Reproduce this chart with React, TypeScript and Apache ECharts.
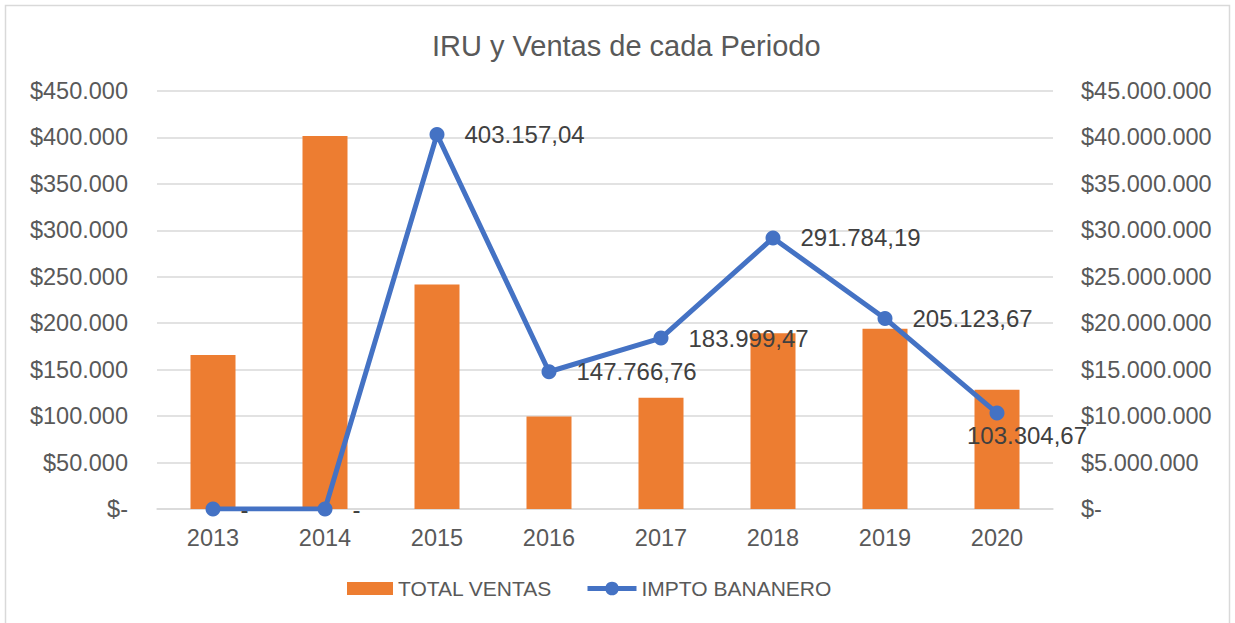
import React, { useEffect, useRef } from "react";
import * as echarts from "echarts";

const years = ["2013", "2014", "2015", "2016", "2017", "2018", "2019", "2020"];
const totalVentas = [16570000, 40160000, 24160000, 9960000, 11970000, 18930000, 19400000, 12830000];
const imptoBananero = [0, 0, 403157.04, 147766.76, 183999.47, 291784.19, 205123.67, 103304.67];

const FONT = "'Liberation Sans', Arial, sans-serif";

function thousands(intStr: string): string {
  return intStr.replace(/\B(?=(\d{3})+(?!\d))/g, ".");
}
function fmtAxis(v: number): string {
  if (v === 0) return "$-";
  return "$" + thousands(String(Math.round(v)));
}
function fmtLabel(v: number): string {
  if (v === 0) return "-";
  const [i, d] = v.toFixed(2).split(".");
  return thousands(i) + "," + d;
}

export default function App() {
  const ref = useRef<HTMLDivElement>(null);
  useEffect(() => {
    if (!ref.current) return;
    const chart = echarts.init(ref.current, undefined, { renderer: "svg" });
    const lineData = imptoBananero.map((v, i) => {
      if (i === imptoBananero.length - 1) {
        return { value: v, label: { position: "bottom", distance: 3, offset: [30, 0] } };
      }
      return v;
    });
    const legendText = { fontFamily: FONT, fontSize: 21, color: "#595959" };
    chart.setOption({
      animation: false,
      textStyle: { fontFamily: FONT },
      title: {
        text: "IRU y Ventas de cada Periodo",
        left: 427,
        top: 26,
        textStyle: { fontFamily: FONT, fontSize: 29, fontWeight: "normal", color: "#595959" },
      },
      graphic: [
        {
          type: "rect",
          shape: { x: 5.5, y: 5.5, width: 1224, height: 640 },
          style: { fill: "none", stroke: "#D9D9D9", lineWidth: 1.5 },
          silent: true,
        },
      ],
      legend: [
        {
          left: 342,
          top: 573,
          itemWidth: 46,
          itemHeight: 13,
          textStyle: legendText,
          data: [{ name: "TOTAL VENTAS", icon: "rect" }],
        },
        {
          left: 580,
          top: 573,
          itemWidth: 49,
          itemHeight: 17,
          textStyle: legendText,
          lineStyle: { width: 5 },
          data: [{ name: "IMPTO BANANERO" }],
        },
      ],
      grid: { left: 157, right: 182, top: 91, bottom: 114, containLabel: false },
      xAxis: {
        type: "category",
        data: years,
        axisLine: { lineStyle: { color: "#D9D9D9", width: 1.5 } },
        axisTick: { show: false },
        axisLabel: { fontFamily: FONT, fontSize: 23.5, color: "#595959", margin: 17 },
      },
      yAxis: [
        {
          type: "value",
          min: 0,
          max: 450000,
          interval: 50000,
          axisLine: { show: false },
          axisTick: { show: false },
          splitLine: { lineStyle: { color: "#D9D9D9", width: 1.5 } },
          axisLabel: { fontFamily: FONT, fontSize: 23.5, color: "#595959", margin: 29, formatter: fmtAxis },
        },
        {
          type: "value",
          min: 0,
          max: 45000000,
          interval: 5000000,
          axisLine: { show: false },
          axisTick: { show: false },
          splitLine: { show: false },
          axisLabel: { fontFamily: FONT, fontSize: 23.5, color: "#595959", margin: 28, formatter: fmtAxis },
        },
      ],
      series: [
        {
          name: "TOTAL VENTAS",
          type: "bar",
          yAxisIndex: 1,
          data: totalVentas,
          barWidth: 45,
          itemStyle: { color: "#ED7D31" },
          z: 1,
        },
        {
          name: "IMPTO BANANERO",
          type: "line",
          yAxisIndex: 0,
          data: lineData,
          symbol: "circle",
          symbolSize: 15,
          lineStyle: { color: "#4472C4", width: 5 },
          itemStyle: { color: "#4472C4" },
          z: 3,
          label: {
            show: true,
            position: "right",
            distance: 20,
            fontFamily: FONT,
            fontSize: 24,
            color: "#404040",
            formatter: (p: any) => fmtLabel(p.value),
          },
        },
      ],
    });
    return () => chart.dispose();
  }, []);
  return (
    <div
      ref={ref}
      style={{ position: "absolute", left: 0, top: 0, width: 1235, height: 623, background: "#fff" }}
    />
  );
}
